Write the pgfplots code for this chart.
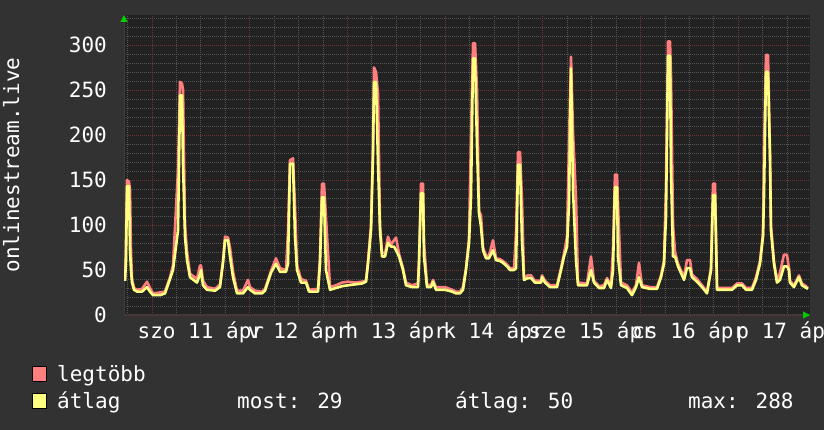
\documentclass[border=0pt]{standalone}
\usepackage{fontspec}
\setmainfont{DejaVu Sans Mono}
\usepackage{pgfplots}
\usepackage{pgfplotstable}
\pgfplotsset{compat=1.18}
\usetikzlibrary{arrows.meta}

\definecolor{outerbg}{HTML}{323232}
\definecolor{plotbg}{HTML}{222222}
\definecolor{mingrid}{HTML}{545454}
\definecolor{majgrid}{HTML}{6E3636}
\definecolor{axisgray}{HTML}{3C3C3C}
\definecolor{arrowgreen}{HTML}{00CC00}
\definecolor{maxred}{HTML}{FF7F7F}
\definecolor{avgyellow}{HTML}{FFFF80}

\pgfplotstableread{
h avg max
-6.63 38 40
-6.39 60 80
-6.14 143 150
-5.65 143 148
-5.40 72 139
-5.16 50 70
-4.91 36 40
-4.42 28 30
-3.68 26 28
-2.46 26 29
-1.23 31 37
-0.49 26 30
0.25 22 24
1.97 22 25
3.19 24 26
4.42 40 42
5.16 50 55
6.39 94 161
6.88 244 259
7.37 244 257
7.62 168 250
8.11 87 100
8.60 61 70
9.33 42 46
11.05 36 40
11.79 45 55
12.04 50 55
12.53 33 38
13.51 28 31
15.48 27 29
16.70 31 34
17.44 58 60
17.93 83 87
18.67 83 86
19.16 65 75
19.90 42 48
20.88 24 27
22.35 24 27
23.58 31 39
24.07 28 31
25.30 24 27
27.02 24 26
27.76 27 29
29.23 47 49
30.46 57 63
31.44 48 52
32.92 48 50
33.41 57 92
33.90 168 172
34.64 168 174
35.13 87 120
35.62 50 55
36.60 36 40
37.83 36 38
38.57 26 28
40.78 26 29
41.27 57 65
41.76 131 146
42.25 131 146
42.74 50 108
43.73 28 31
45.20 30 33
46.67 32 36
48.15 33 37
49.87 34 36
51.59 35 37
52.57 37 38
53.06 57 60
53.80 94 100
54.29 180 185
54.54 259 275
55.03 259 270
55.52 168 246
56.01 94 100
56.50 65 70
57.24 65 68
57.97 80 87
58.71 76 78
59.45 76 83
59.94 72 86
60.68 65 68
61.66 50 52
62.39 33 36
63.87 31 33
65.34 31 35
65.59 58 60
66.08 135 146
66.58 135 146
66.82 65 80
67.55 31 34
68.54 31 33
69.03 37 39
69.76 28 31
71.97 28 31
73.70 26 28
74.68 24 26
75.66 24 26
76.40 28 31
77.13 50 52
77.87 80 85
78.36 131 198
78.86 285 302
79.35 285 302
79.84 187 250
80.33 113 115
80.82 98 111
81.31 72 75
82.05 63 66
82.79 63 66
83.77 72 83
84.50 61 63
85.49 60 62
86.22 58 60
87.21 54 56
87.94 50 52
88.93 50 52
89.42 52 91
89.91 167 181
90.40 167 181
90.89 83 128
91.38 39 42
92.36 41 44
93.10 41 44
94.08 36 38
95.56 36 38
95.81 42 44
96.54 36 38
97.77 31 33
99.49 31 33
100.47 50 52
101.21 65 68
101.95 76 87
102.44 124 192
102.93 274 287
103.42 139 203
104.16 61 130
104.65 33 36
106.86 33 35
107.84 50 65
108.58 36 38
109.81 30 32
111.04 30 33
111.77 39 41
112.75 30 33
113.24 50 72
113.73 142 156
114.23 142 156
114.47 65 124
115.21 33 36
116.68 30 33
117.91 22 25
118.89 31 33
119.63 42 58
120.37 31 33
122.34 29 31
124.06 29 31
125.04 42 44
125.77 57 60
126.26 109 142
126.76 288 304
127.25 288 304
127.49 161 265
127.99 65 100
128.48 65 70
129.22 54 57
130.69 39 42
131.42 52 61
132.16 52 61
132.65 42 45
133.88 37 40
135.11 31 33
136.34 24 26
137.32 50 52
137.81 133 146
138.31 133 146
138.80 28 30
140.76 28 30
142.48 28 30
143.71 33 35
144.94 33 35
145.92 28 30
147.39 28 30
148.38 39 42
149.35 57 60
150.09 87 90
150.33 131 183
150.83 270 289
151.32 270 289
151.81 176 180
152.05 94 100
152.79 57 60
153.53 36 38
154.26 39 47
155.24 54 67
155.98 54 67
156.47 50 52
156.72 36 38
157.70 31 33
158.93 42 44
159.66 33 35
160.40 31 33
161.14 29 30
}\data

\begin{document}
\begin{tikzpicture}[x=1pt,y=1pt]
\fill[outerbg] (0,0) rectangle (824,430);
\useasboundingbox (0,0) rectangle (824,430);
\begin{axis}[
  at={(124pt,115pt)}, anchor=south west,
  scale only axis, width=686pt, height=300pt,
  xmin=-6.88, xmax=161.64, ymin=0, ymax=333.3,
  axis background/.style={fill=plotbg},
  axis lines=left,
  axis line style={draw=axisgray, line width=1pt, -{Triangle[length=7pt,width=7pt,color=arrowgreen]}},
  xtick={0,24,48,72,96,120,144},
  xticklabels={,,,,,,},
  minor xtick={-6,6,12,18,30,36,42,54,60,66,78,84,90,102,108,114,126,132,138,150,156},
  extra x ticks={12,36,60,84,108,132,156},
  extra x tick labels={szo 11 ápr,v 12 ápr,h 13 ápr,k 14 ápr,sze 15 ápr,cs 16 ápr,p 17 ápr},
  extra x tick style={grid=none, major tick length=0pt},
  ytick={0,50,100,150,200,250,300},
  minor ytick={10,20,30,40,60,70,80,90,110,120,130,140,160,170,180,190,210,220,230,240,260,270,280,290,310,320,330},
  major tick length=0pt, minor tick length=0pt,
  grid=both,
  major grid style={draw=majgrid, line width=0.8pt, dash pattern=on 1pt off 1pt},
  minor grid style={draw=mingrid, line width=0.8pt, dash pattern=on 1pt off 1pt},
  /pgf/number format/assume math mode=true,
  tick label style={font=\fontsize{21}{25}\selectfont, text=white},
  yticklabel style={anchor=east, inner sep=0pt, xshift=-17pt},
  xticklabel style={anchor=base, inner sep=0pt, yshift=-24pt},
  clip=true,
]
\addplot[color=maxred, line width=2.6pt, line join=round] table[x=h, y=max] {\data};
\addplot[color=avgyellow, line width=2.6pt, line join=round] table[x=h, y=avg] {\data};
\end{axis}
\node[rotate=90, anchor=base, inner sep=0pt, text=white, font=\fontsize{21}{25}\selectfont] at (19,265) {onlinestream.live};
\filldraw[fill=maxred, draw=black, line width=0.8pt] (32,49) rectangle (46,64);
\filldraw[fill=avgyellow, draw=black, line width=0.8pt] (32,22) rectangle (46,37);
\begin{scope}[every node/.style={anchor=base west, inner sep=0pt, text=white, font=\fontsize{21}{25}\selectfont}]
\node at (57,48) {legtöbb};
\node at (57,21) {átlag};
\node at (237,21) {most: 29};
\node at (455,21) {átlag: 50};
\node at (688,21) {max: 288};
\end{scope}
\end{tikzpicture}
\end{document}
